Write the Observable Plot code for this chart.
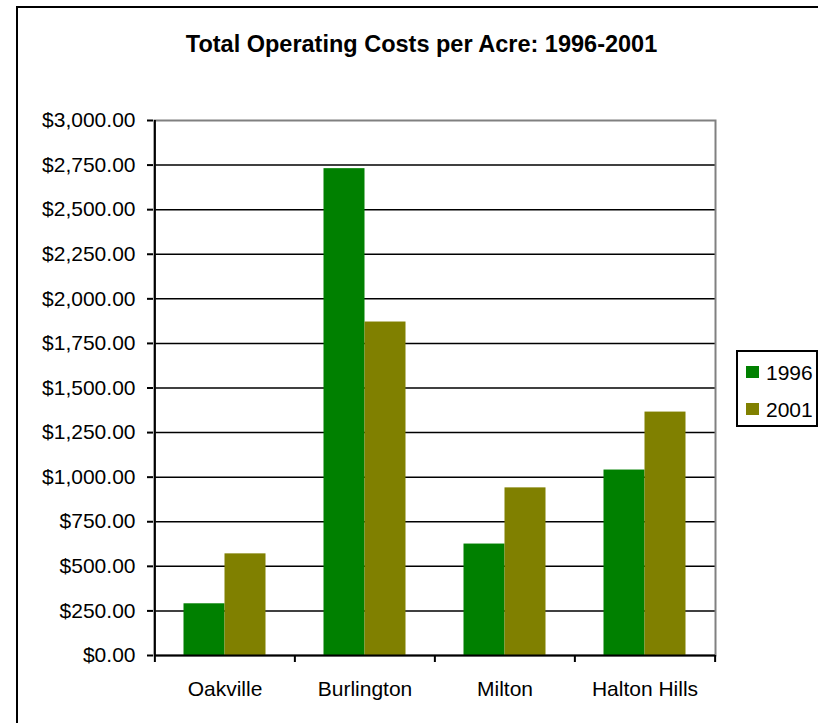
<!DOCTYPE html>
<html>
<head>
<meta charset="utf-8">
<script src="https://cdn.jsdelivr.net/npm/d3@7"></script>
<script src="https://cdn.jsdelivr.net/npm/@observablehq/plot@0.6"></script>
<style>
  html, body { margin: 0; padding: 0; background: #fff; }
  #wrap { position: relative; width: 818px; height: 723px; overflow: hidden; font-family: Arial, "Liberation Sans", sans-serif; color: #000; }
  #border { position: absolute; left: 16px; top: 6px; width: 900px; height: 900px; border: 2px solid #000; box-sizing: border-box; }
  #title { position: absolute; left: 0; width: 843px; top: 33px; text-align: center; font-size: 23.5px; font-weight: bold; line-height: 1; }
  #chart { position: absolute; left: 0; top: 100px; }
  #legend { position: absolute; left: 736px; top: 350px; width: 82px; height: 77px; border: 2px solid #000; box-sizing: border-box; }
  .item { position: absolute; left: 8px; font-size: 21px; line-height: 1; }
  .sw { position: absolute; width: 13px; height: 12px; }
  .lab { position: absolute; left: 20px; top: 0; white-space: nowrap; }
</style>
</head>
<body>
<div id="wrap">
  <div id="border"></div>
  <div id="title"></div>
  <div id="chart"></div>
  <div id="legend"></div>
</div>
<script>
const titleText = "Total Operating Costs per Acre: 1996-2001";
const cities = ["Oakville", "Burlington", "Milton", "Halton Hills"];
const years = ["1996", "2001"];
const values1996 = [290, 2730, 625, 1040];
const values2001 = [570, 1870, 940, 1365];
const yTicks = [0, 250, 500, 750, 1000, 1250, 1500, 1750, 2000, 2250, 2500, 2750, 3000];
const colors = ["#008000", "#808000"];

document.getElementById("title").textContent = titleText;

const data1996 = cities.map((c, i) => ({city: c, year: years[0], value: values1996[i]}));
const data2001 = cities.map((c, i) => ({city: c, year: years[1], value: values2001[i]}));

const W = 818, H = 623, ML = 154, MR = 103;
const step = (W - ML - MR) / cities.length;
const barW = 41;
const fmt = d => "$" + d3.format(",.2f")(d);

const chart = Plot.plot({
  width: W,
  height: H,
  marginLeft: ML,
  marginRight: MR,
  marginTop: 20,
  marginBottom: 68,
  style: {fontFamily: "Arial, 'Liberation Sans', sans-serif", fontSize: "21px", color: "#000", background: "transparent", overflow: "visible"},
  x: {type: "band", domain: cities, paddingInner: 1 - barW / step, paddingOuter: (1 - barW / step) / 2, axis: null, label: null},
  y: {domain: [0, 3000], axis: null, label: null},
  marks: [
    Plot.ruleY(yTicks.filter(v => v > 0 && v < 3000), {stroke: "#000", strokeWidth: 1.5}),
    Plot.frame({stroke: "#808080", strokeWidth: 2}),
    Plot.barY(data1996, {x: "city", y: "value", fill: colors[0], dx: -barW / 2}),
    Plot.barY(data2001, {x: "city", y: "value", fill: colors[1], dx: barW / 2}),
    Plot.ruleY([0], {stroke: "#000", strokeWidth: 2}),
    Plot.ruleX([cities[0]], {x: d => d, y1: 0, y2: 3000, dx: -step / 2, stroke: "#000", strokeWidth: 2}),
    Plot.ruleX(cities, {x: d => d, y1: 0, y2: 0, insetBottom: -7, dx: -step / 2, stroke: "#000", strokeWidth: 2}),
    Plot.ruleX([cities[cities.length - 1]], {x: d => d, y1: 0, y2: 0, insetBottom: -7, dx: step / 2, stroke: "#000", strokeWidth: 2}),
    Plot.axisY({ticks: yTicks, tickFormat: fmt, tickSize: 6, tickPadding: 12, strokeWidth: 2, dx: -1, fontSize: 21, anchor: "left", label: null}),
    Plot.axisX({tickSize: 0, tickPadding: 26, fontSize: 21, anchor: "bottom", label: null})
  ]
});
document.getElementById("chart").appendChild(chart);

const legend = document.getElementById("legend");
years.forEach((yr, i) => {
  const item = document.createElement("div");
  item.className = "item";
  item.style.top = (i === 0 ? 10 : 47) + "px";
  const sw = document.createElement("div");
  sw.className = "sw";
  sw.style.background = colors[i];
  sw.style.top = "4px";
  sw.style.left = "0px";
  const lab = document.createElement("div");
  lab.className = "lab";
  lab.textContent = yr;
  item.appendChild(sw);
  item.appendChild(lab);
  legend.appendChild(item);
});
</script>
</body>
</html>
